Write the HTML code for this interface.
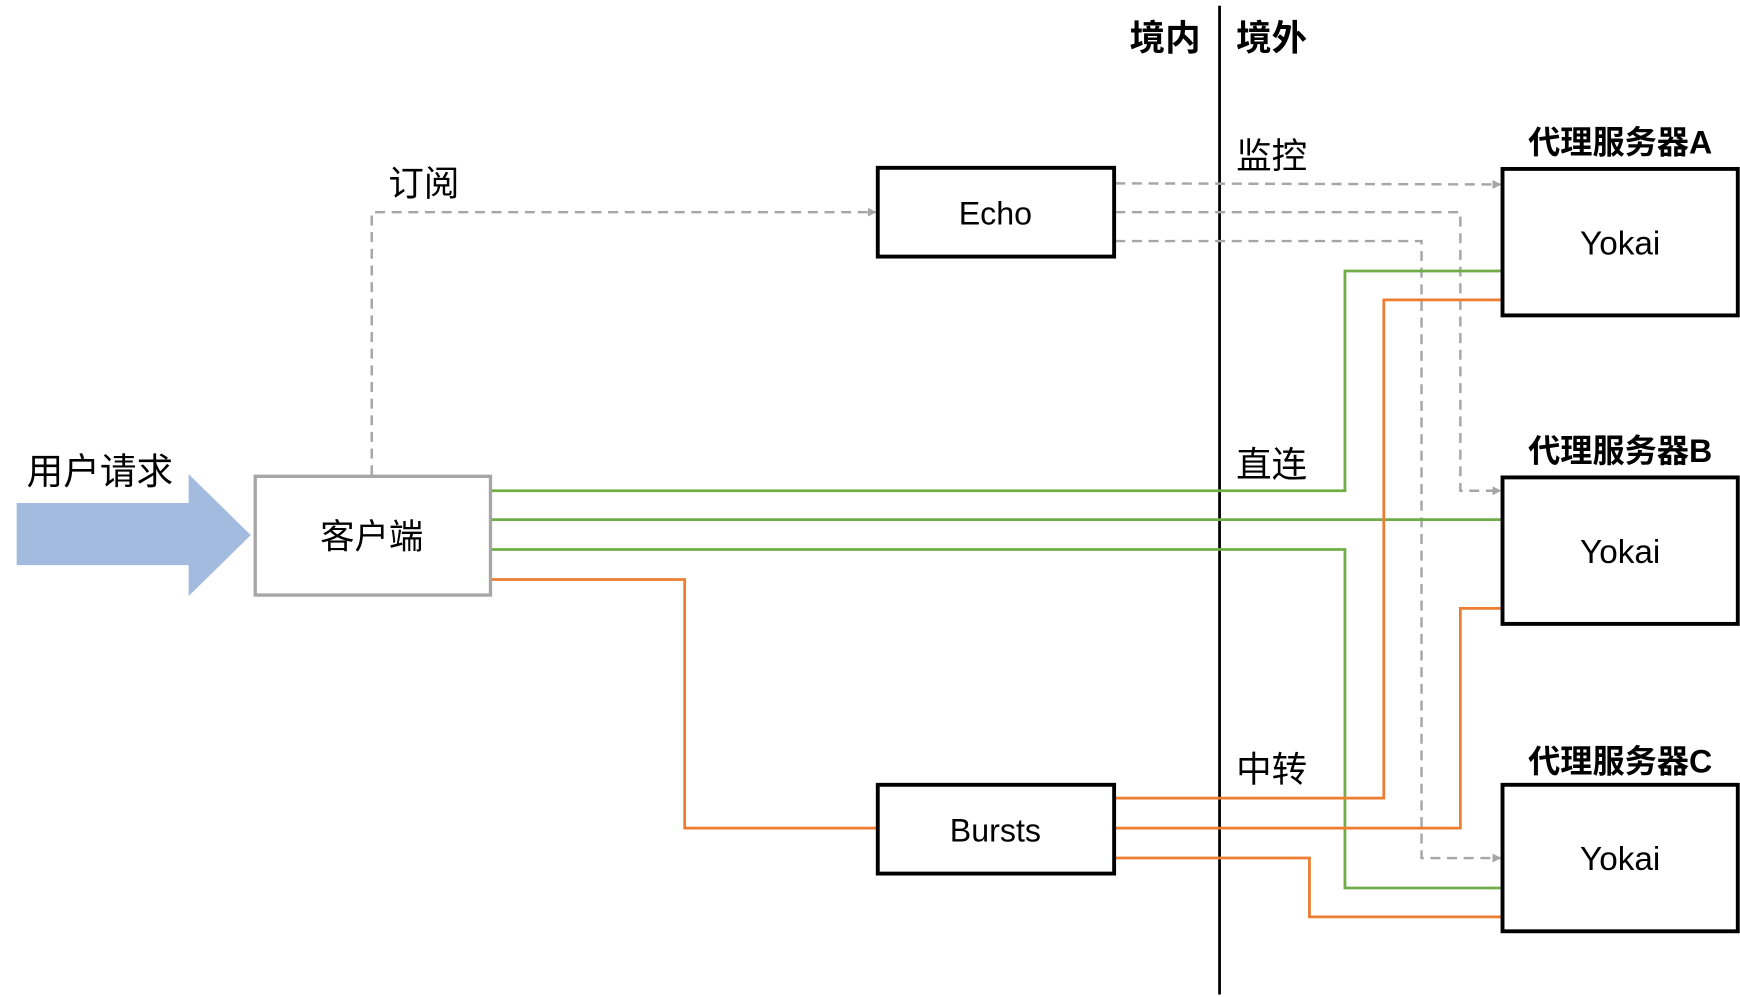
<!DOCTYPE html>
<html><head><meta charset="utf-8"><style>
html,body{margin:0;padding:0;background:#fff;}
svg{display:block;}
text{font-family:"Liberation Sans","Noto Sans CJK SC",sans-serif;fill:#000;}
</style></head><body>
<svg width="1740" height="997" viewBox="0 0 1568 898" xmlns="http://www.w3.org/2000/svg">
<defs>
<marker id="ag" markerWidth="8" markerHeight="8" refX="7" refY="4" orient="auto" markerUnits="userSpaceOnUse">
<path d="M0,0 L8,4 L0,8 z" fill="#a6a6a6"/></marker>
</defs>
<rect width="1568" height="898" fill="#fff"/>
<line x1="1099" y1="5" x2="1099" y2="896" stroke="#000" stroke-width="2.5"/>
<text x="1050" y="45" font-size="32" font-weight="bold" text-anchor="middle">境内</text>
<text x="1146" y="45" font-size="32" font-weight="bold" text-anchor="middle">境外</text>
<path d="M15,453 L170,453 L170,427 L226,482 L170,537 L170,509 L15,509 z" fill="#a4bbe0"/>
<text x="90" y="436" font-size="33" text-anchor="middle">用户请求</text>
<g fill="none" stroke="#a6a6a6" stroke-width="2.2" stroke-dasharray="9,6">
<path d="M335,428 L335,191 L789,191" marker-end="url(#ag)"/>
<path d="M1005,165 L1352,166" marker-end="url(#ag)"/>
<path d="M1005,191 L1316,191 L1316,442 L1352,442" marker-end="url(#ag)"/>
<path d="M1005,217 L1281,217 L1281,773 L1352,773" marker-end="url(#ag)"/>
</g>
<text x="382" y="176" font-size="32" text-anchor="middle">订阅</text>
<text x="1146" y="151" font-size="32" text-anchor="middle">监控</text>
<text x="1146" y="429" font-size="32" text-anchor="middle">直连</text>
<text x="1146" y="704" font-size="32" text-anchor="middle">中转</text>
<g fill="none" stroke="#70ad47" stroke-width="2.5">
<path d="M442,442 L1212,442 L1212,244 L1354,244"/>
<path d="M442,468 L1354,468"/>
<path d="M442,495 L1212,495 L1212,800 L1354,800"/>
</g>
<g fill="none" stroke="#ed7d31" stroke-width="2.5">
<path d="M442,522 L617,522 L617,746 L791,746"/>
<path d="M1004,719 L1247,719 L1247,270 L1354,270"/>
<path d="M1004,746 L1316,746 L1316,548 L1354,548"/>
<path d="M1004,773 L1180,773 L1180,826 L1354,826"/>
</g>
<rect x="230" y="429" width="212" height="107" fill="#fff" stroke="#a6a6a6" stroke-width="3"/>
<text x="335" y="494" font-size="31" text-anchor="middle">客户端</text>
<rect x="791" y="151" width="213" height="80" fill="#fff" stroke="#000" stroke-width="3.5"/>
<text x="897" y="202" font-size="29" text-anchor="middle">Echo</text>
<rect x="791" y="707" width="213" height="80" fill="#fff" stroke="#000" stroke-width="3.5"/>
<text x="897" y="758" font-size="29" text-anchor="middle">Bursts</text>
<rect x="1354" y="152" width="212" height="132" fill="#fff" stroke="#000" stroke-width="3.5"/>
<text x="1460" y="229" font-size="30" text-anchor="middle">Yokai</text>
<rect x="1354" y="430" width="212" height="132" fill="#fff" stroke="#000" stroke-width="3.5"/>
<text x="1460" y="507" font-size="30" text-anchor="middle">Yokai</text>
<rect x="1354" y="707" width="212" height="132" fill="#fff" stroke="#000" stroke-width="3.5"/>
<text x="1460" y="784" font-size="30" text-anchor="middle">Yokai</text>
<text x="1460" y="138" font-size="29" font-weight="bold" text-anchor="middle">代理服务器A</text>
<text x="1460" y="416" font-size="29" font-weight="bold" text-anchor="middle">代理服务器B</text>
<text x="1460" y="696" font-size="29" font-weight="bold" text-anchor="middle">代理服务器C</text>
</svg>
</body></html>
